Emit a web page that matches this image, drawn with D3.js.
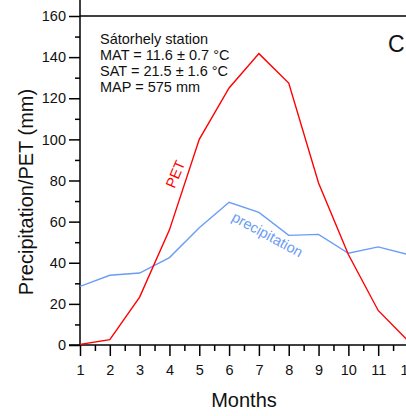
<!DOCTYPE html>
<html>
<head>
<meta charset="utf-8">
<script src="https://cdn.jsdelivr.net/npm/d3@7"></script>
<style>
body { margin: 0; background: #fff; }
text { font-family: "Liberation Sans", Arial, sans-serif; }
</style>
</head>
<body>
<script>
// monthly values
var months = [1, 2, 3, 4, 5, 6, 7, 8, 9, 10, 11, 12]
var pet = [0.3, 2.6, 23.3, 56, 100, 125, 141.7, 127.4, 78.8, 44, 16.8, 2]
var precip = [28.5, 33.9, 35, 42.5, 57, 69.4, 64.5, 53.3, 53.8, 44.6, 47.7, 44]
var yMajor = [0, 20, 40, 60, 80, 100, 120, 140, 160]
var yMinor = [10, 30, 50, 70, 90, 110, 130, 150]
var xMinor = [1.5, 2.5, 3.5, 4.5, 5.5, 6.5, 7.5, 8.5, 9.5, 10.5, 11.5]
var notes = ['Sátorhely station', 'MAT = 11.6 ± 0.7 °C', 'SAT = 21.5 ± 1.6 °C', 'MAP = 575 mm']

var width = 406, height = 416

var x = d3.scaleLinear().domain([1, 12]).range([80, 408])
var y = d3.scaleLinear().domain([0, 160]).range([345, 16])

var svg = d3.select('body').append('svg')
    .attr('width', width)
    .attr('height', height)

// clip so month 12 runs off the right edge like the original
svg.append('clipPath').attr('id', 'plot')
    .append('rect').attr('x', 80).attr('y', 0).attr('width', 326).attr('height', 345)

// top frame line and the vertical axis line going up to the panel above
svg.append('line')
    .attr('x1', 80).attr('x2', width)
    .attr('y1', y(160)).attr('y2', y(160))
    .attr('stroke', '#000').attr('stroke-width', 1.5)
svg.append('line')
    .attr('x1', 80).attr('x2', 80)
    .attr('y1', 0).attr('y2', y(0))
    .attr('stroke', '#000').attr('stroke-width', 1.5)

// y axis
var yAx = svg.append('g')
    .attr('transform', 'translate(80,0)')
    .call(d3.axisLeft(y).tickValues(yMajor).tickSize(11).tickPadding(3))
var yAxMinor = svg.append('g')
    .attr('transform', 'translate(80,0)')
    .call(d3.axisLeft(y).tickValues(yMinor).tickSize(5).tickFormat(''))

// x axis
var xAx = svg.append('g')
    .attr('transform', 'translate(0,' + y(0) + ')')
    .call(d3.axisBottom(x).tickValues(months).tickSize(11).tickPadding(9))
var xAxMinor = svg.append('g')
    .attr('transform', 'translate(0,' + y(0) + ')')
    .call(d3.axisBottom(x).tickValues(xMinor).tickSize(6).tickFormat(''))

;[yAx, yAxMinor, xAx, xAxMinor].forEach(function(g){
    g.select('.domain').remove()
    g.selectAll('line').attr('stroke-width', 1.5)
    g.selectAll('text').attr('font-size', '14.5px').attr('fill', '#111')
        .attr('font-family', '"Liberation Sans", Arial, sans-serif')
})
svg.append('line')
    .attr('x1', 69).attr('x2', width)
    .attr('y1', y(0)).attr('y2', y(0))
    .attr('stroke', '#000').attr('stroke-width', 1.5)

// data lines
var line = d3.line()
    .x(function(d, i){ return x(months[i]) })
    .y(function(d){ return y(d) })

var plot = svg.append('g').attr('clip-path', 'url(#plot)')
plot.append('path')
    .datum(precip)
    .attr('d', line)
    .attr('fill', 'none')
    .attr('stroke', '#6a9cf6')
    .attr('stroke-width', 1.4)
plot.append('path')
    .datum(pet)
    .attr('d', line)
    .attr('fill', 'none')
    .attr('stroke', '#ff0000')
    .attr('stroke-width', 1.4)

// line labels
svg.append('text')
    .attr('transform', 'translate(180,176) rotate(-67)')
    .attr('text-anchor', 'middle')
    .attr('font-size', '14.5px')
    .attr('fill', '#ff0000')
    .text('PET')
svg.append('text')
    .attr('transform', 'translate(265,239) rotate(28.5)')
    .attr('text-anchor', 'middle')
    .attr('font-size', '14.5px')
    .attr('fill', '#6a9cf6')
    .text('precipitation')

// station notes
svg.append('g').selectAll('text')
    .data(notes)
    .enter().append('text')
    .attr('x', 100)
    .attr('y', function(d, i){ return 43.5 + i * 16.3 })
    .attr('font-size', '14.5px')
    .attr('fill', '#111')
    .text(function(d){ return d })

// panel letter
svg.append('text')
    .attr('x', 388).attr('y', 52)
    .attr('font-size', '23px')
    .attr('fill', '#111')
    .text('C')

// axis titles
svg.append('text')
    .attr('x', x(6.5)).attr('y', 407)
    .attr('text-anchor', 'middle')
    .attr('font-size', '20px')
    .attr('fill', '#111')
    .text('Months')
svg.append('text')
    .attr('transform', 'translate(33,192) rotate(-90)')
    .attr('text-anchor', 'middle')
    .attr('font-size', '20px')
    .attr('fill', '#111')
    .text('Precipitation/PET (mm)')
</script>
</body>
</html>
